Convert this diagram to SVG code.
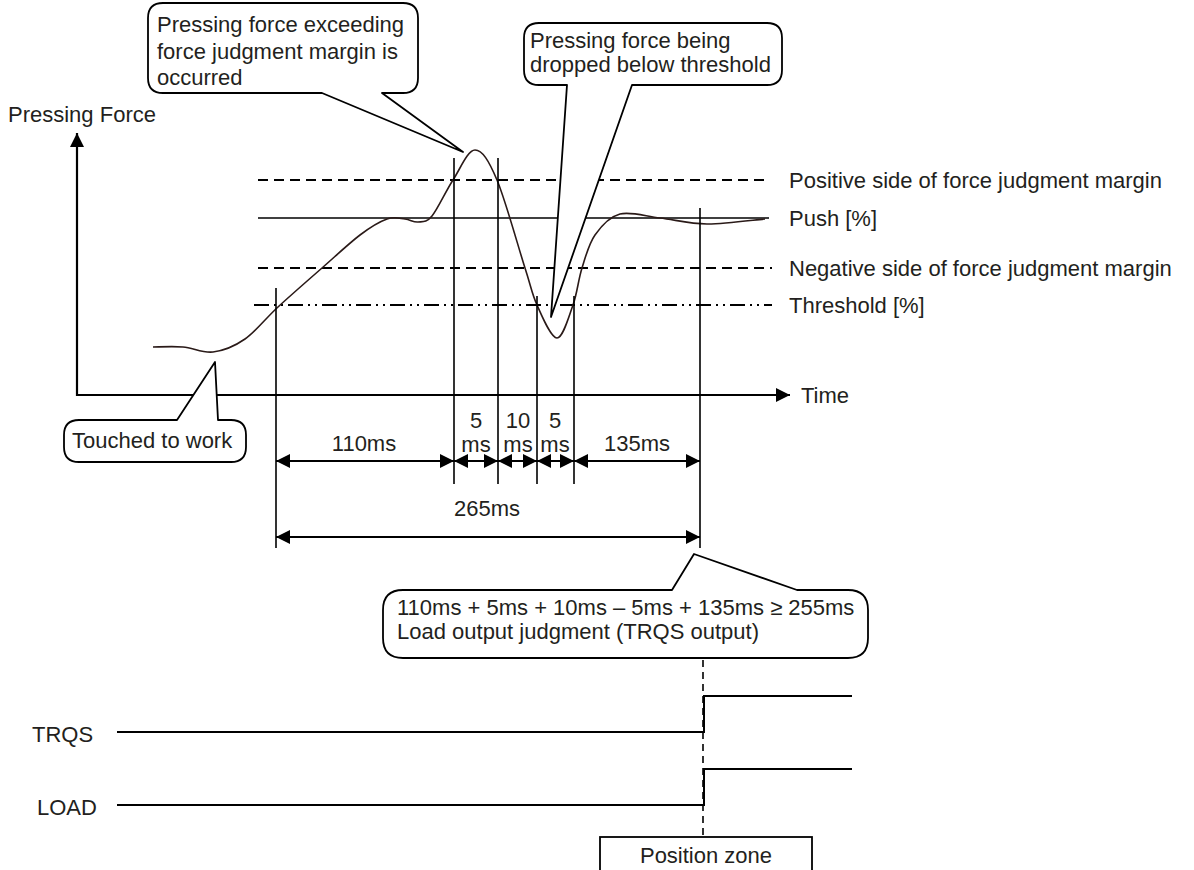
<svg xmlns="http://www.w3.org/2000/svg" width="1194" height="870" viewBox="0 0 1194 870">
<style>
text{font-family:"Liberation Sans",Arial,sans-serif;font-size:22px;fill:#231f20}
.c{text-anchor:middle}
.ln{stroke:#000;stroke-width:1.6;fill:none}
.ax{stroke:#000;stroke-width:2.2;fill:none}
.dim{stroke:#000;stroke-width:2.2;fill:none;marker-start:url(#ah);marker-end:url(#ah)}
.dash{stroke:#000;stroke-width:1.8;stroke-dasharray:10 6;fill:none}
.dd{stroke:#000;stroke-width:1.8;stroke-dasharray:15 5 2 5 2 5;fill:none}
.call{fill:#fff;stroke:#000;stroke-width:1.8;stroke-linejoin:round}
.sig{stroke:#000;stroke-width:2;fill:none}
</style>
<defs>
<marker id="ah" viewBox="0 0 14 14" refX="14" refY="7" markerWidth="14" markerHeight="14" markerUnits="userSpaceOnUse" orient="auto-start-reverse">
<path d="M0,0 L14,7 L0,14 z" fill="#000"/>
</marker>
</defs>
<rect width="1194" height="870" fill="#fff"/>

<g id="axes">
<line class="ax" x1="77" y1="396" x2="77" y2="133" marker-end="url(#ah)"/>
<line class="ax" x1="76" y1="395" x2="790" y2="395" marker-end="url(#ah)"/>
<text x="8" y="122">Pressing Force</text>
<text x="801" y="403">Time</text>
</g>

<g id="levels">
<line class="dash" x1="258" y1="180" x2="766" y2="180"/>
<line class="ln" x1="258" y1="218" x2="769" y2="218"/>
<line class="dash" x1="258" y1="268" x2="772" y2="268"/>
<line class="dd" x1="254" y1="305" x2="772" y2="305"/>
<text x="789" y="188">Positive side of force judgment margin</text>
<text x="789" y="226">Push [%]</text>
<text x="789" y="276">Negative side of force judgment margin</text>
<text x="789" y="313">Threshold [%]</text>
</g>

<g id="force-curve">
<path d="M153,347 C158,347 173,346.2 183,347 C193,347.8 202.7,353.3 213,352 C223.3,350.7 234.2,346.5 245,339 C255.8,331.5 265.2,318.8 278,307 C290.8,295.2 308.3,280 322,268 C335.7,256 349.2,243.2 360,235 C370.8,226.8 379.5,221.7 387,219 C394.5,216.3 399.8,218.5 405,219 C410.2,219.5 413.5,222.5 418,222 C422.5,221.5 426.2,223 432,216 C437.8,209 445.8,191 453,180 C460.2,169 467.7,150 475,150 C482.3,150 488.7,160.3 497,180 C505.3,199.7 518.3,247.2 525,268 C531.7,288.8 531.7,293.3 537,305 C542.3,316.7 551,338 557,338 C563,338 568.8,316.7 573,305 C577.2,293.3 578.3,279.7 582,268 C585.7,256.3 588.7,244 595,235 C601.3,226 609.2,216.8 620,214 C630.8,211.2 645.5,216.3 660,218 C674.5,219.7 689.5,223.8 707,224 C724.5,224.2 755.3,219.8 765,219" fill="none" stroke="#2a1a18" stroke-width="1.6"/>
</g>

<g id="markers">
<line class="ln" x1="276" y1="288" x2="276" y2="548"/>
<line class="ln" x1="454" y1="158" x2="454" y2="484"/>
<line class="ln" x1="498" y1="158" x2="498" y2="484"/>
<line class="ln" x1="537" y1="296" x2="537" y2="484"/>
<line class="ln" x1="574" y1="296" x2="574" y2="484"/>
<line class="ln" x1="700" y1="208" x2="700" y2="548"/>
</g>

<g id="dimensions">
<line class="dim" x1="276" y1="461" x2="454" y2="461"/>
<line class="dim" x1="454" y1="461" x2="498" y2="461"/>
<line class="dim" x1="498" y1="461" x2="537" y2="461"/>
<line class="dim" x1="537" y1="461" x2="574" y2="461"/>
<line class="dim" x1="574" y1="461" x2="700" y2="461"/>
<line class="dim" x1="276" y1="537" x2="700" y2="537"/>
<text class="c" x="364" y="451">110ms</text>
<text class="c" x="476" y="428">5</text>
<text class="c" x="476" y="452">ms</text>
<text class="c" x="518" y="428">10</text>
<text class="c" x="518" y="452">ms</text>
<text class="c" x="555" y="428">5</text>
<text class="c" x="555" y="452">ms</text>
<text class="c" x="637" y="451">135ms</text>
<text class="c" x="487" y="516">265ms</text>
</g>

<g id="callout-exceed">
<path class="call" d="M163,3 H403 Q418,3 418,18 V78 Q418,93 403,93 H382 L463,152 L322,93 H163 Q148,93 148,78 V18 Q148,3 163,3 Z"/>
<text x="157" y="32">Pressing force exceeding</text>
<text x="157" y="58.5">force judgment margin is</text>
<text x="157" y="85">occurred</text>
</g>

<g id="callout-drop">
<path class="call" d="M539,23 H767 Q782,23 782,38 V70 Q782,85 767,85 H632 L551,317 L567,85 H539 Q524,85 524,70 V38 Q524,23 539,23 Z"/>
<text x="530" y="48">Pressing force being</text>
<text x="530" y="72">dropped below threshold</text>
</g>

<g id="callout-touch">
<path class="call" d="M79,420 H177 L215,362 L218,420 H231 Q246,420 246,435 V447 Q246,462 231,462 H79 Q64,462 64,447 V435 Q64,420 79,420 Z"/>
<text x="72" y="448">Touched to work</text>
</g>

<g id="callout-judgment">
<path class="call" d="M403,590 H672 L694,554 L797,590 H848 Q868,590 868,610 V638 Q868,658 848,658 H403 Q383,658 383,638 V610 Q383,590 403,590 Z"/>
<text x="397" y="615">110ms + 5ms + 10ms – 5ms + 135ms ≥ 255ms</text>
<text x="397" y="639">Load output judgment (TRQS output)</text>
</g>

<g id="signals">
<line x1="703" y1="660" x2="703" y2="837" stroke="#000" stroke-width="1.6" stroke-dasharray="7 5"/>
<text x="32" y="742">TRQS</text>
<polyline class="sig" points="117,732 704,732 704,696 852,696"/>
<text x="37" y="815">LOAD</text>
<polyline class="sig" points="117,805 704,805 704,769 852,769"/>
</g>

<g id="position-zone">
<rect x="600" y="837" width="212" height="40" fill="#fff" stroke="#000" stroke-width="1.8"/>
<text class="c" x="706" y="863">Position zone</text>
</g>
</svg>
